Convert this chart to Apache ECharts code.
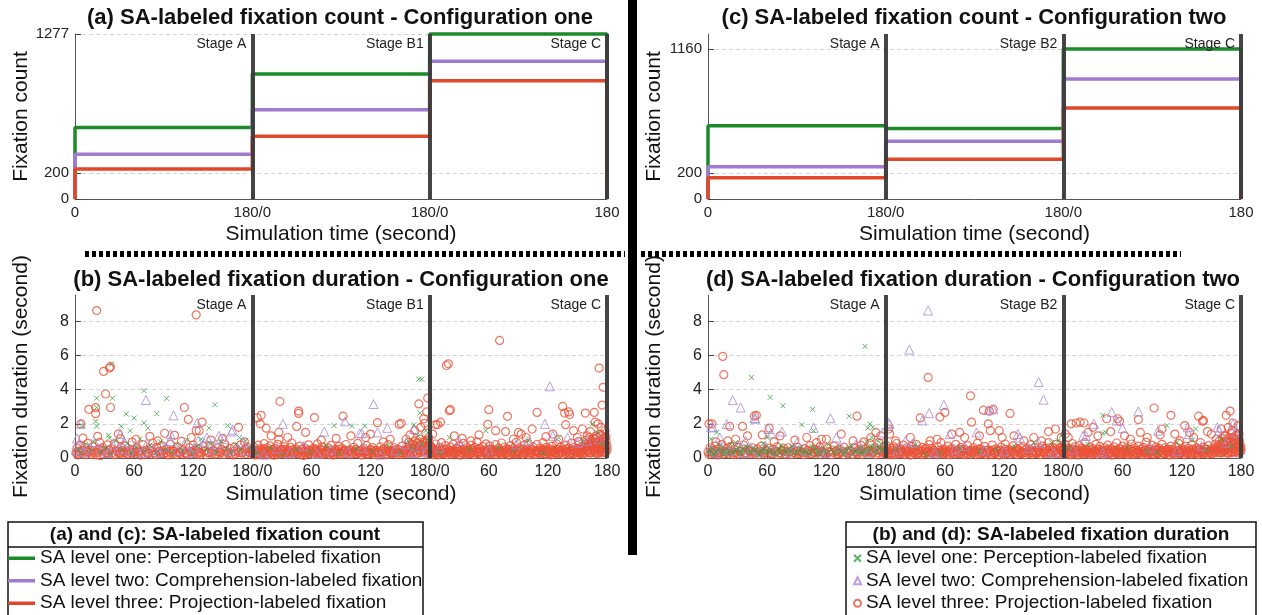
<!DOCTYPE html>
<html>
<head>
<meta charset="utf-8">
<script src="https://cdn.jsdelivr.net/npm/echarts@6/dist/echarts.min.js"></script>
<style>
  html, body { margin: 0; padding: 0; background: #fff; }
  #chart { width: 1262px; height: 615px; }
</style>
</head>
<body>
<div id="chart"></div>
<script>
// ---- data ----
const stageLen = 180;
const stagesOne = ['Stage A', 'Stage B1', 'Stage C'];
const stagesTwo = ['Stage A', 'Stage B2', 'Stage C'];
const countMax = 1277;
const countTicksOne = [0, 200, 1277];
const countTicksTwo = [0, 200, 1160];
const durMax = 9.55;
const durTicks = [0, 2, 4, 6, 8];

const levelNames = [
  'SA level one: Perception-labeled fixation',
  'SA level two: Comprehension-labeled fixation',
  'SA level three: Projection-labeled fixation'
];

// cumulative fixation count reached in each stage
const countOneL1 = [554, 967, 1277];
const countOneL2 = [346, 690, 1067];
const countOneL3 = [233, 485, 915];
const countTwoL1 = [567, 546, 1160];
const countTwoL2 = [249, 446, 928];
const countTwoL3 = [164, 308, 705];

// fixation duration: [time in stage (s), duration (s)] per stage
const durOneL1 = [
  [[37,5.5],[22,3.5],[22,2.96],[21,2.15],[22,1.86],[38,3.5],[70,3.95],[93,3.49],[142,3.12],[52,2.58],[60,2.34],[83,2.6],[70,2.05],[74,1.75],[47,1.86],[56,1.6],[34,1.33],[35,1.17],[155,1.9],[136,1.75],[167,1.2],[7,1.9],
   [3,.5],[6,.3],[11,.8],[16,.45],[19,.95],[26,.35],[31,.6],[36,.25],[41,1.0],[48,.5],[53,.85],[57,.3],[62,.65],[66,1.1],[71,.4],[76,.75],[82,.3],[87,.95],[92,.5],[98,.35],[103,.8],[109,.45],[114,1.05],[119,.3],[124,.7],[128,1.1],[133,.5],[138,.85],[143,.35],[148,.95],[153,.55],[158,.3],[163,.8],[168,.45],[173,1.0],[178,.6]],
  [[169,4.62],[172,4.62],[170,2.64],[83,1.9],[101,1.87],[114,1.87],[164,1.95],
   [5,.3],[18,.6],[30,.2],[44,.5],[58,.35],[75,.7],[88,.25],[105,.55],[122,.4],[138,.75],[150,.3],[158,1.0],[163,.6],[168,1.3],[172,.8],[176,1.6],[178,1.1]],
  [[20,1.2],[40,.5],[57,1.6],[85,.4],[100,1.0],[131,1.2],[155,1.0],[165,2.0],[170,1.5],[175,.8],[10,.3],[70,.6],[115,.3]]
];
const durOneL2 = [
  [[72,3.4],[100,2.5],[124,2.05],[97,1.4],[159,1.55],[160,1.65],[146,1.3],[134,1.2],[2,1.15],[6,2.0],[46,1.4],[125,1.0],
   [1,.45],[4,.8],[9,.35],[14,.6],[20,.9],[27,.5],[33,.3],[39,.75],[44,.55],[50,.95],[55,.4],[61,.7],[68,.3],[73,.85],[80,.5],[85,.35],[91,.65],[96,1.0],[104,.45],[111,.8],[117,.35],[121,.6],[131,.9],[139,.5],[144,.75],[151,1.1],[156,.4],[164,.6],[171,.9],[176,.45]],
  [[31,2.0],[73,1.55],[123,3.16],[94,2.15],[137,1.77],[127,1.5],[109,1.45],[111,1.45],[164,1.7],
   [3,.4],[12,.2],[25,.55],[38,.3],[52,.7],[66,.25],[80,.5],[97,.35],[112,.6],[130,.2],[145,.45],[155,.8],[162,.3],[170,.65],[177,.4]],
  [[122,4.2],[117,2.0],[30,1.0],[88,.8],[100,1.0],[125,1.3],[140,1.2],[150,.9],[160,1.0],[172,1.1],[60,.5],[10,.6]]
];
const durOneL3 = [
  [[22,8.64],[123,8.39],[29,5.07],[35,5.27],[36,5.35],[31,3.75],[36,2.96],[14,2.85],[21,2.6],[21,2.95],[111,2.96],[115,2.26],[129,2.1],[123,1.6],[126,1.6],[166,1.8],[23,1.27],[8,1.17],[6,2.0],[44,1.4],[46,1.13],[76,1.27],[84,1.0],[91,1.45],[101,1.33],[62,1.1],[118,1.2],[138,1.05],[150,1.15],[172,.95],
   [1,.32],[2,.58],[3,.18],[5,.74],[7,.41],[9,.22],[10,.63],[12,.37],[13,.86],[15,.47],[17,.19],[18,.66],[20,.29],[24,.52],[25,.91],[26,.14],[28,.61],[30,.43],[33,.77],[34,.27],[37,.55],[39,.21],[40,.83],[42,.44],[45,.31],[47,.62],[49,.36],[51,.71],[54,.24],[56,.49],[58,.93],[60,.33],[63,.58],[65,.41],[67,.17],[69,.78],[72,.46],[74,.28],[77,.57],[79,.88],[81,.23],[83,.63],[86,.39],[88,.72],[90,.26],[93,.52],[95,.18],[97,.81],[99,.44],[102,.29],[104,.66],[106,.35],[108,.97],[110,.48],[113,.22],[116,.61],[118,.38],[120,.76],[122,.27],[125,.53],[127,.19],[130,.68],[132,.42],[135,.31],[137,.73],[140,.45],[142,.21],[145,.59],[147,.34],[149,.51],[152,.82],[155,.28],[157,.56],[160,.18],[162,.64],[165,.43],[168,.77],[170,.31],[173,.52],[175,.62],[177,.33],[179,.47]],
  [[28,3.31],[47,2.75],[47,2.61],[63,2.37],[9,2.5],[8,2.0],[5,2.35],[45,1.85],[54,1.5],[14,1.75],[19,1.3],[27,1.5],[27,1.1],[92,2.45],[127,2.07],[151,2.03],[149,1.97],[174,2.3],[175,2.03],[178,3.51],[169,3.17],[100,1.3],[115,1.2],[140,1.1],[160,1.35],[165,1.6],[171,1.8],[177,2.7],[36,1.2],[70,1.05],[85,1.15],[120,1.4],[133,.95],[156,1.1],[176,1.45],[179,1.2],
   [1,.35],[2,.62],[3,.18],[4,.48],[6,.75],[7,.27],[9,.55],[11,.39],[12,.84],[13,.22],[15,.6],[17,.33],[18,.71],[20,.45],[22,.16],[23,.58],[25,.36],[26,.8],[28,.25],[30,.51],[32,.67],[33,.3],[35,.43],[37,.19],[39,.62],[40,.88],[42,.34],[44,.53],[46,.24],[48,.7],[50,.41],[52,.15],[53,.6],[55,.32],[57,.77],[59,.47],[61,.21],[62,.56],[64,.38],[66,.83],[68,.29],[69,.52],[71,.66],[73,.23],[75,.44],[77,.59],[79,.31],[80,.74],[82,.17],[84,.5],[86,.36],[88,.68],[90,.26],[91,.55],[93,.41],[95,.79],[97,.2],[99,.48],[101,.33],[103,.63],[105,.27],[107,.86],[109,.42],[111,.18],[113,.57],[114,.35],[116,.72],[118,.25],[120,.49],[122,.61],[124,.3],[126,.45],[128,.19],[130,.66],[132,.38],[134,.54],[136,.23],[138,.78],[140,.4],[142,.29],[144,.6],[146,.35],[148,.5],[150,.2],[152,.7],[154,.44],[156,.31],[158,.62],[159,.92],[161,.27],[162,.55],[163,.8],[164,.38],[165,1.0],[166,.6],[167,.24],[168,.85],[169,.47],[170,1.1],[171,.33],[172,.72],[173,.95],[174,.52],[175,.28],[176,.88],[177,.6],[178,1.05],[179,.4],[180,.7]],
  [[71,6.89],[17,5.42],[19,5.52],[172,5.27],[176,4.14],[20,2.77],[21,2.83],[60,2.83],[79,2.44],[109,2.67],[135,3.02],[137,2.63],[141,2.7],[142,2.55],[158,2.63],[167,2.67],[175,3.1],[11,2.1],[6,1.96],[8,1.96],[59,1.97],[67,1.6],[77,1.55],[104,1.7],[90,1.5],[93,1.4],[138,1.95],[146,1.6],[155,1.7],[163,1.55],[168,2.1],[171,2.0],[174,1.8],[3,1.4],[25,1.3],[33,1.15],[42,1.0],[50,1.35],[85,1.1],[98,1.2],[118,1.25],[125,1.4],[131,1.1],[150,1.2],[160,1.3],[178,1.6],
   [0,.4],[1,.7],[2,.22],[3,.55],[5,.33],[6,.82],[7,.46],[8,.18],[10,.61],[11,.38],[12,.9],[14,.27],[15,.53],[16,.72],[18,.35],[19,.2],[21,.64],[22,.45],[24,.8],[25,.28],[27,.57],[28,.37],[30,.69],[31,.16],[33,.5],[34,.86],[36,.31],[37,.6],[39,.42],[40,.23],[42,.74],[43,.48],[45,.3],[46,.62],[48,.95],[49,.36],[51,.55],[52,.19],[54,.67],[55,.41],[57,.83],[58,.27],[60,.52],[61,.7],[63,.33],[64,.46],[66,.2],[67,.78],[69,.39],[70,.58],[72,.25],[73,.88],[75,.44],[76,.63],[78,.3],[79,.51],[81,.17],[82,.72],[84,.4],[85,.56],[87,.26],[88,.92],[90,.35],[91,.6],[93,.45],[94,.21],[96,.74],[97,.32],[99,.54],[100,.85],[102,.28],[103,.47],[105,.65],[106,.2],[108,.4],[109,.79],[111,.31],[112,.57],[114,.43],[115,.9],[117,.24],[118,.62],[120,.37],[121,.53],[123,.18],[124,.7],[126,.45],[127,.29],[129,.82],[130,.5],[132,.34],[133,.64],[135,.22],[136,.48],[138,.75],[139,.38],[141,.59],[142,.27],[144,.87],[145,.43],[147,.63],[148,.3],[150,.52],[151,.96],[153,.36],[154,.66],[156,.24],[157,.55],[158,.8],[159,1.05],[160,.42],[161,.7],[162,1.2],[163,.3],[164,.9],[165,.58],[166,1.15],[167,.4],[168,.75],[169,1.3],[170,.25],[171,.95],[172,.6],[173,1.4],[174,.45],[175,.82],[176,1.1],[177,.35],[178,.68],[179,1.25],[180,.5]]
];
// the many short level-three fixations that fill the bottom band
const bandOneL3 = [
  [[2,.25],[4,.4],[6,.3],[8,.45],[11,.2],[14,.35],[16,.28],[19,.42],[22,.18],[23,.33],[27,.4],[29,.25],[32,.3],[35,.45],[38,.32],[41,.2],[43,.38],[46,.26],[48,.44],[50,.3],[53,.22],[55,.37],[57,.3],[59,.45],[61,.24],[64,.34],[66,.28],[68,.41],[71,.19],[73,.36],[75,.27],[78,.43],[80,.31],[82,.2],[85,.38],[87,.26],[89,.44],[92,.3],[94,.22],[96,.36],[98,.29],[100,.4],[103,.2],[105,.33],[107,.27],[109,.42],[112,.3],[114,.24],[117,.38],[119,.28],[121,.45],[124,.22],[126,.35],[128,.3],[131,.41],[133,.2],[136,.33],[139,.27],[141,.4],[144,.25],[146,.36],[148,.3],[151,.22],[153,.4],[156,.31],[158,.26],[161,.38],[163,.24],[166,.33],[169,.28],[171,.42],[174,.25],[176,.36],[178,.3]],
  [[0,.3],[1,.2],[2,.42],[3,.33],[5,.25],[6,.48],[7,.36],[8,.22],[10,.4],[11,.3],[12,.52],[14,.26],[15,.38],[16,.2],[17,.45],[19,.32],[20,.24],[21,.5],[22,.36],[24,.28],[25,.44],[26,.2],[27,.34],[29,.46],[30,.26],[31,.38],[33,.22],[34,.5],[35,.3],[36,.4],[38,.25],[39,.35],[41,.48],[42,.22],[43,.32],[45,.42],[46,.28],[47,.36],[49,.2],[50,.5],[51,.3],[53,.4],[54,.24],[56,.34],[57,.46],[58,.27],[60,.37],[61,.22],[63,.44],[64,.3],[65,.52],[67,.25],[68,.38],[70,.3],[71,.2],[72,.45],[74,.33],[75,.26],[76,.4],[78,.22],[79,.48],[81,.3],[82,.36],[83,.24],[85,.42],[86,.28],[87,.5],[89,.34],[90,.2],[92,.4],[93,.27],[94,.46],[96,.32],[97,.24],[98,.38],[100,.22],[101,.44],[102,.3],[104,.36],[105,.5],[106,.25],[108,.4],[109,.3],[110,.2],[112,.46],[113,.33],[115,.26],[116,.4],[117,.22],[119,.35],[120,.48],[121,.28],[123,.38],[124,.2],[125,.44],[127,.3],[128,.36],[129,.24],[131,.42],[132,.3],[133,.5],[135,.26],[136,.38],[137,.2],[139,.45],[140,.32],[141,.25],[143,.4],[144,.3],[145,.48],[147,.22],[148,.36],[149,.28],[151,.44],[152,.32],[153,.24],[155,.4],[156,.5],[157,.28],[159,.36],[160,.6],[161,.42],[162,.75],[163,.3],[164,.55],[165,.68],[166,.4],[167,.9],[168,.32],[169,.62],[170,.5],[171,.8],[172,.38],[173,.66],[174,.45],[175,.95],[176,.35],[177,.7],[178,.5],[179,.85],[180,.3]],
  [[0,.25],[1,.45],[2,.32],[3,.2],[4,.5],[5,.38],[6,.26],[7,.42],[9,.3],[10,.22],[11,.48],[12,.35],[13,.24],[14,.44],[15,.3],[17,.2],[18,.5],[19,.36],[20,.28],[21,.42],[22,.22],[23,.34],[24,.46],[26,.3],[27,.24],[28,.52],[29,.38],[30,.2],[31,.44],[32,.32],[34,.26],[35,.48],[36,.36],[37,.22],[38,.4],[39,.3],[41,.5],[42,.25],[43,.35],[44,.44],[45,.2],[47,.38],[48,.3],[49,.52],[50,.26],[51,.4],[52,.33],[53,.22],[55,.46],[56,.3],[57,.37],[58,.2],[59,.44],[60,.32],[62,.25],[63,.5],[64,.36],[65,.28],[66,.42],[68,.22],[69,.35],[70,.47],[71,.3],[72,.4],[73,.2],[74,.33],[76,.45],[77,.27],[78,.38],[80,.22],[81,.5],[82,.34],[83,.26],[84,.42],[86,.3],[87,.2],[88,.46],[89,.36],[90,.25],[91,.4],[92,.3],[94,.52],[95,.22],[96,.38],[97,.28],[98,.44],[100,.33],[101,.2],[102,.42],[103,.3],[104,.5],[106,.26],[107,.36],[108,.22],[109,.46],[110,.32],[111,.4],[113,.25],[114,.35],[115,.5],[116,.28],[117,.4],[119,.2],[120,.44],[121,.32],[122,.26],[123,.48],[125,.36],[126,.22],[127,.4],[128,.3],[129,.5],[131,.25],[132,.38],[133,.3],[134,.45],[135,.2],[137,.36],[138,.28],[139,.5],[140,.33],[142,.22],[143,.42],[144,.3],[145,.48],[146,.25],[148,.37],[149,.2],[150,.44],[151,.3],[152,.55],[153,.27],[154,.4],[155,.32],[156,.5],[157,.62],[158,.3],[159,.45],[160,.72],[161,.35],[161,.9],[162,.55],[163,.8],[163,.3],[164,.65],[165,1.0],[165,.4],[166,.7],[167,.5],[167,.95],[168,.3],[168,1.1],[169,.6],[169,.85],[170,.4],[170,1.2],[171,.7],[171,.3],[172,.9],[172,.5],[173,1.05],[173,.35],[174,.75],[174,1.3],[175,.5],[175,.3],[176,.95],[176,.6],[177,1.2],[177,.4],[178,.8],[178,.55],[179,1.0],[179,.35],[180,.7]]
];

const durTwoL1 = [
  [[44,4.72],[63,3.55],[76,3.06],[159,6.54],[106,2.85],[143,2.45],[95,1.95],[107,1.6],[162,1.75],[164,2.0],[167,1.8],[9,1.5],[3,1.1],[60,1.2],[28,.9],
   [1,.3],[4,.6],[6,.2],[10,.45],[12,.75],[15,.35],[18,.55],[20,.25],[23,.8],[26,.4],[30,.6],[32,.3],[35,.5],[38,.7],[42,.35],[46,.55],[50,.25],[53,.45],[56,.85],[59,.3],[62,.6],[65,.4],[69,.2],[72,.55],[74,.75],[78,.35],[82,.5],[85,.7],[90,.3],[94,.6],[97,.4],[102,.25],[105,.7],[109,.45],[112,.3],[117,.55],[122,.8],[127,.35],[132,.6],[137,.25],[140,.5],[145,.7],[149,.4],[154,.6],[157,.3],[161,.95],[163,.55],[166,1.2],[168,.7],[170,.4],[172,1.0],[174,.6],[176,.85],[178,.5],
   [2,.45],[5,.25],[8,.35],[13,.5],[16,.2],[21,.4],[25,.3],[29,.45],[33,.25],[37,.4],[40,.6],[44,.3],[48,.5],[52,.2],[55,.4],[58,.6],[61,.35],[66,.25],[70,.45],[73,.3],[77,.55],[80,.25],[84,.4],[88,.3],[92,.5],[96,.25],[100,.4],[104,.3],[108,.6],[111,.2],[115,.4],[120,.3],[125,.5],[129,.25],[134,.4],[139,.3],[143,.6],[147,.25],[151,.4],[155,.3],[159,.5],[162,.35],[165,.7],[169,.3],[173,.55],[177,.4]],
  [[10,.5],[30,.8],[55,.3],[75,.6],[95,.4],[130,.7],[150,.9],[168,.9],[175,1.0],[178,1.3],[40,.2],[112,.5]],
  [[40,2.5],[40,1.45],[43,1.5],[105,1.9],[134,1.7],[25,.8],[65,.6],[85,.4],[115,.9],[145,.5],[160,1.1],[170,.7],[131,1.05],[95,.3],[5,.6]]
];
const durTwoL2 = [
  [[25,3.39],[33,2.96],[47,2.34],[48,2.3],[124,2.33],[107,1.77],[19,1.99],[3,1.8],[5,1.8],[61,1.7],[75,1.55],[177,1.5],[12,1.2],[38,1.0],[64,1.45],[90,.9],[130,1.2],[150,.8],
   [2,.5],[8,.3],[14,.6],[22,.4],[30,.75],[36,.3],[44,.55],[52,.35],[58,.7],[67,.45],[80,.3],[87,.6],[99,.4],[114,.55],[119,.3],[134,.65],[142,.4],[155,.5],[163,.35],[172,.6]],
  [[43,8.64],[24,6.35],[44,2.63],[37,2.2],[4,2.0],[3,2.05],[59,3.11],[155,4.45],[160,3.42],[104,2.8],[109,2.85],[92,1.5],[134,1.4],[136,1.2],[20,1.0],[28,.9],[65,1.4],[70,.5],[80,.7],[120,.4],[145,.6],[170,.3],[12,.5],[50,.3],[100,.45],[155,.9]],
  [[76,2.73],[49,2.69],[54,2.2],[60,1.75],[31,2.0],[96,1.6],[126,1.8],[127,1.4],[156,1.8],[158,1.6],[20,1.3],[23,1.3],[172,2.0],[175,1.5],[10,.5],[40,.3],[88,.6],[115,.4],[140,.7],[165,.9]]
];
const durTwoL3 = [
  [[15,5.95],[16,4.88],[47,2.45],[49,2.5],[151,2.45],[1,2.0],[4,2.0],[22,1.85],[35,1.85],[62,1.75],[115,1.1],[135,1.4],[55,1.35],[20,1.0],[40,1.3],[73,1.3],[88,1.05],[100,1.2],[120,1.1],[147,1.0],[165,1.2],[170,1.5],[175,1.3],[8,.95],[28,1.1],[67,.95],[110,.9],[158,.95],
   [0,.35],[2,.6],[3,.22],[5,.45],[7,.7],[9,.28],[11,.52],[13,.38],[14,.8],[17,.25],[19,.56],[21,.42],[23,.67],[25,.3],[27,.5],[29,.2],[31,.62],[33,.4],[36,.76],[38,.27],[41,.48],[43,.34],[45,.6],[48,.22],[50,.53],[52,.41],[54,.7],[57,.3],[59,.46],[61,.58],[64,.24],[66,.5],[68,.37],[70,.65],[72,.28],[75,.44],[77,.55],[79,.21],[81,.6],[83,.36],[86,.48],[89,.25],[91,.62],[93,.4],[96,.3],[98,.55],[101,.45],[103,.72],[105,.27],[108,.5],[111,.35],[113,.64],[116,.4],[118,.23],[121,.58],[123,.33],[126,.47],[128,.7],[131,.26],[133,.52],[136,.38],[138,.62],[141,.3],[143,.45],[146,.21],[148,.6],[150,.36],[153,.5],[155,.74],[157,.28],[160,.55],[162,.4],[164,.85],[167,.33],[169,.6],[171,.45],[173,.9],[176,.38],[178,.65],[179,.3]],
  [[43,4.72],[35,2.35],[55,2.4],[60,2.67],[86,3.64],[99,2.8],[105,2.75],[109,2.85],[126,2.61],[87,2.1],[104,2.0],[106,1.6],[165,1.55],[172,1.7],[3,1.7],[4,1.4],[10,1.0],[25,1.2],[45,1.0],[67,1.4],[75,1.5],[80,1.2],[95,1.3],[115,1.6],[118,1.2],[140,1.0],[150,1.2],[158,1.0],[178,1.2],[52,1.1],[130,1.3],
   [0,.45],[1,.72],[3,.3],[5,.58],[6,.2],[8,.66],[10,.4],[11,.85],[13,.27],[15,.52],[16,.36],[18,.75],[20,.23],[21,.6],[23,.42],[25,.17],[26,.68],[28,.33],[30,.5],[31,.8],[33,.26],[35,.47],[37,.62],[38,.2],[40,.55],[42,.37],[44,.78],[46,.3],[47,.56],[49,.43],[51,.22],[53,.65],[55,.35],[56,.9],[58,.28],[60,.5],[62,.4],[63,.7],[65,.19],[67,.57],[69,.33],[71,.8],[72,.45],[74,.25],[76,.62],[78,.38],[80,.52],[82,.2],[83,.73],[85,.41],[87,.3],[89,.6],[91,.45],[93,.87],[94,.24],[96,.55],[98,.34],[100,.68],[102,.21],[104,.48],[106,.37],[108,.76],[110,.28],[112,.53],[113,.42],[115,.18],[117,.64],[119,.36],[121,.82],[123,.27],[125,.5],[127,.39],[129,.71],[131,.23],[133,.56],[135,.44],[137,.3],[139,.66],[141,.2],[143,.52],[145,.4],[147,.78],[149,.29],[151,.61],[153,.35],[155,.47],[157,.22],[159,.7],[161,.38],[163,.55],[165,.9],[167,.31],[169,.63],[171,.44],[173,.8],[175,.26],[177,.58],[179,.4]],
  [[92,2.93],[44,2.3],[55,2.3],[57,2.15],[76,2.25],[8,2.0],[13,2.05],[17,2.1],[21,2.05],[109,2.5],[137,2.45],[141,2.15],[142,2.2],[169,2.75],[165,2.5],[172,2.05],[2,1.4],[5,1.2],[25,1.5],[35,1.3],[48,1.55],[62,1.3],[68,1.1],[78,1.5],[85,1.2],[98,1.35],[113,1.4],[118,1.0],[128,1.5],[132,1.2],[150,1.4],[155,1.1],[160,1.7],[163,1.3],[167,1.8],[171,1.6],[174,1.2],[177,1.9],[178,1.4],[30,1.8],[100,1.7],[123,1.9],[146,1.55],
   [0,.5],[1,.25],[2,.78],[4,.4],[5,.6],[6,.2],[8,.52],[9,.85],[10,.33],[12,.66],[13,.44],[15,.18],[16,.72],[18,.38],[19,.58],[21,.27],[22,.9],[24,.46],[25,.3],[27,.62],[28,.2],[30,.55],[31,.4],[33,.8],[34,.28],[36,.5],[37,.68],[39,.35],[40,.22],[42,.6],[43,.45],[45,.75],[46,.3],[48,.52],[49,.17],[51,.66],[52,.4],[54,.88],[55,.32],[57,.55],[58,.24],[60,.7],[61,.43],[63,.3],[64,.6],[66,.2],[67,.5],[69,.82],[70,.36],[72,.58],[73,.26],[75,.45],[76,.7],[78,.33],[79,.19],[81,.62],[82,.42],[84,.93],[85,.28],[87,.53],[88,.38],[90,.74],[91,.22],[93,.48],[94,.64],[96,.3],[97,.56],[99,.41],[100,.8],[102,.25],[103,.6],[105,.35],[106,.5],[108,.18],[109,.7],[111,.44],[112,.27],[114,.65],[115,.38],[117,.86],[118,.3],[120,.54],[121,.42],[123,.2],[124,.68],[126,.34],[127,.57],[129,.25],[130,.77],[132,.46],[133,.31],[135,.6],[136,.21],[138,.52],[139,.9],[141,.37],[142,.63],[144,.28],[145,.5],[147,.72],[148,.4],[150,.24],[151,.58],[153,.35],[154,.8],[156,.46],[157,.66],[158,1.0],[159,.3],[160,.55],[161,1.15],[162,.4],[163,.78],[164,1.3],[165,.5],[166,.95],[167,.28],[168,1.2],[169,.62],[170,1.45],[171,.36],[172,.85],[173,1.1],[174,.5],[175,1.35],[176,.7],[177,.3],[178,1.0],[179,.6],[180,.42]]
];
const bandTwoL3 = [
  [[1,.2],[4,.33],[6,.25],[8,.4],[10,.18],[12,.3],[15,.22],[18,.36],[20,.27],[24,.42],[26,.2],[28,.33],[30,.26],[34,.38],[37,.22],[39,.3],[42,.4],[44,.25],[47,.33],[51,.2],[53,.36],[56,.28],[58,.4],[60,.22],[63,.32],[65,.26],[69,.38],[71,.2],[74,.3],[76,.42],[78,.25],[80,.35],[84,.2],[87,.32],[90,.4],[92,.26],[95,.36],[97,.2],[100,.3],[102,.42],[104,.24],[107,.35],[109,.28],[112,.4],[114,.22],[117,.33],[119,.27],[122,.38],[125,.2],[127,.32],[130,.4],[132,.25],[135,.3],[137,.2],[140,.36],[142,.28],[145,.4],[147,.22],[149,.33],[152,.27],[154,.4],[156,.2],[159,.35],[161,.28],[163,.42],[166,.25],[168,.36],[170,.2],[172,.3],[174,.45],[177,.27],[179,.4]],
  [[0,.25],[1,.4],[2,.2],[3,.48],[4,.33],[6,.27],[7,.44],[9,.3],[10,.22],[12,.5],[13,.36],[14,.25],[16,.42],[17,.3],[19,.2],[20,.46],[22,.34],[23,.26],[24,.4],[26,.22],[27,.5],[29,.3],[30,.38],[32,.24],[33,.44],[34,.32],[36,.2],[37,.42],[39,.3],[40,.26],[41,.5],[43,.36],[44,.22],[45,.4],[47,.3],[48,.46],[50,.25],[51,.35],[52,.2],[54,.44],[55,.3],[57,.38],[58,.5],[59,.24],[61,.34],[62,.2],[64,.42],[65,.3],[66,.48],[68,.26],[69,.38],[70,.22],[72,.4],[73,.3],[75,.5],[76,.25],[77,.36],[79,.2],[80,.44],[81,.32],[83,.26],[84,.4],[86,.22],[87,.48],[88,.34],[90,.28],[91,.4],[92,.2],[94,.36],[95,.5],[97,.26],[98,.4],[99,.3],[101,.22],[102,.44],[103,.34],[105,.25],[106,.4],[107,.2],[109,.48],[110,.32],[111,.26],[113,.38],[114,.22],[116,.45],[117,.3],[118,.36],[120,.2],[121,.5],[122,.28],[124,.4],[125,.3],[126,.22],[128,.44],[129,.34],[130,.26],[132,.4],[133,.2],[134,.5],[136,.3],[137,.38],[138,.25],[140,.44],[141,.32],[142,.2],[144,.4],[145,.28],[146,.5],[148,.34],[149,.22],[150,.42],[152,.3],[153,.26],[154,.45],[156,.35],[157,.2],[158,.4],[160,.3],[161,.52],[162,.25],[164,.38],[165,.3],[166,.6],[168,.22],[169,.45],[170,.35],[172,.55],[173,.25],[174,.42],[176,.3],[177,.62],[178,.38],[179,.5],[180,.28]],
  [[0,.3],[1,.48],[2,.22],[3,.4],[4,.3],[5,.52],[6,.26],[7,.38],[8,.2],[9,.45],[10,.34],[11,.25],[12,.5],[13,.3],[14,.4],[15,.22],[16,.46],[17,.32],[18,.26],[19,.42],[20,.2],[21,.36],[22,.5],[23,.28],[24,.4],[26,.22],[27,.34],[28,.46],[29,.3],[30,.24],[32,.42],[33,.32],[34,.2],[35,.5],[36,.36],[38,.26],[39,.44],[40,.3],[41,.2],[42,.4],[44,.33],[45,.5],[46,.25],[47,.38],[48,.3],[50,.22],[51,.44],[52,.34],[53,.26],[54,.48],[56,.3],[57,.2],[58,.4],[59,.32],[60,.25],[62,.46],[63,.36],[64,.22],[65,.42],[66,.3],[68,.5],[69,.26],[70,.38],[71,.2],[72,.44],[74,.32],[75,.25],[76,.4],[77,.3],[78,.5],[80,.22],[81,.36],[82,.28],[83,.44],[84,.2],[86,.4],[87,.3],[88,.48],[89,.25],[90,.36],[92,.22],[93,.42],[94,.3],[95,.5],[96,.26],[98,.38],[99,.2],[100,.44],[101,.32],[102,.25],[104,.46],[105,.3],[106,.4],[107,.22],[108,.36],[110,.5],[111,.28],[112,.4],[113,.2],[114,.33],[116,.45],[117,.3],[118,.25],[119,.42],[120,.34],[122,.2],[123,.48],[124,.3],[125,.38],[126,.25],[128,.44],[129,.32],[130,.22],[131,.5],[132,.36],[134,.26],[135,.42],[136,.3],[137,.2],[138,.46],[140,.34],[141,.26],[142,.4],[143,.3],[144,.5],[146,.22],[147,.38],[148,.3],[149,.45],[150,.26],[152,.4],[153,.55],[154,.3],[155,.45],[156,.65],[157,.35],[158,.5],[159,.8],[160,.3],[160,.6],[161,.45],[162,.9],[162,.35],[163,.6],[164,.4],[164,1.0],[165,.7],[166,.3],[166,.85],[167,.55],[168,1.1],[168,.4],[169,.7],[170,.3],[170,.95],[171,.55],[172,1.2],[172,.4],[173,.8],[174,.35],[174,1.05],[175,.6],[176,.4],[176,1.3],[177,.7],[178,.45],[178,1.1],[179,.8],[179,.35],[180,.6]]
];

// ---- styling ----
const FONT = '"Liberation Sans", Arial, sans-serif';
const lineColors = ['#1c8a2b', '#a07bcf', '#e0482a'];
const markColors = ['#38a043', '#a68ad6', '#ea5238'];
const markWidths = [1, 1, 1.2];
const stageLineColor = '#3b3b3b';

// panels: 0=(a) 1=(c) 2=(b) 3=(d)
const grids = [
  { left: 75,  top: 34,  width: 532, height: 165 },
  { left: 708, top: 34,  width: 533, height: 165 },
  { left: 75,  top: 295, width: 532, height: 163 },
  { left: 708, top: 295, width: 533, height: 163 }
];

function stageTimeLabel(v) {
  if (v === 0) return '0';
  if (v === stageLen * 3) return String(stageLen);
  if (v % stageLen === 0) return stageLen + '/0';
  return String(v % stageLen);
}

function stepData(vals) {
  const pts = [[0, 0]];
  vals.forEach((v, i) => pts.push([i * stageLen, v]));
  pts.push([vals.length * stageLen, vals[vals.length - 1]]);
  pts.push([vals.length * stageLen, 0]);
  return pts;
}

function flatStages(stages, extra) {
  const out = [];
  stages.forEach((pts, i) => {
    const all = extra ? pts.concat(extra[i]) : pts;
    all.forEach(p => out.push([p[0] + i * stageLen, p[1]]));
  });
  return out;
}

const stageMarks = {
  silent: true,
  symbol: ['none', 'none'],
  label: { show: false },
  lineStyle: { color: stageLineColor, width: 4, type: 'solid', opacity: 0.95 },
  data: [1, 2, 3].map(k => ({ xAxis: k * stageLen })),
  animation: false
};

function makeX(i, interval, fs) {
  return {
    type: 'value', gridIndex: i, min: 0, max: stageLen * 3, interval: interval,
    axisLine: { lineStyle: { color: '#555', width: 1 } },
    axisTick: { inside: true, length: 5, lineStyle: { color: '#444' } },
    axisLabel: { fontSize: fs, color: '#222', margin: 6, fontFamily: FONT, formatter: stageTimeLabel, showMinLabel: true, showMaxLabel: true },
    splitLine: { show: false },
    name: 'Simulation time (second)', nameLocation: 'middle', nameGap: i < 2 ? 25 : 26,
    nameMoveOverlap: false,
    nameTextStyle: { fontSize: 21, color: '#111', fontFamily: FONT }
  };
}

function makeY(i, max, ticks, name, fs) {
  return {
    type: 'value', gridIndex: i, min: 0, max: max,
    axisLine: { show: true, lineStyle: { color: '#555', width: 1 } },
    axisTick: { show: true, inside: true, length: 6, customValues: ticks, lineStyle: { color: '#444' } },
    axisLabel: { fontSize: fs, color: '#222', margin: 6, fontFamily: FONT, customValues: ticks, formatter: v => String(v) },
    splitLine: { show: true, lineStyle: { color: '#d4d4d4', type: [4, 3], width: 1 } },
    name: name, nameLocation: 'middle', nameGap: 43, nameMoveOverlap: false,
    nameTextStyle: { fontSize: 21, color: '#111', fontFamily: FONT }
  };
}

function countSeries(panel, lists) {
  return lists.map((vals, k) => ({
    type: 'line', name: 'cnt' + (k + 1), xAxisIndex: panel, yAxisIndex: panel,
    step: 'end', symbol: 'none', clip: false, animation: false,
    data: stepData(vals),
    lineStyle: { color: lineColors[k], width: 3.5 },
    itemStyle: { color: lineColors[k] },
    markLine: k === lists.length - 1 ? stageMarks : undefined
  }));
}

const markerSymbols = ['path://M0,0L10,10M10,0L0,10', 'triangle', 'circle'];
const markerSizes = [5, 9, 8];

function durSeries(panel, lists, band) {
  // level three first so green and purple marks stay visible on top
  return [2, 1, 0].map((k, n) => ({
    type: 'scatter', name: 'dur' + (k + 1), xAxisIndex: panel, yAxisIndex: panel,
    symbol: markerSymbols[k], symbolSize: markerSizes[k], animation: false,
    data: flatStages(lists[k], k === 2 ? band : null),
    itemStyle: { color: 'rgba(0,0,0,0)', borderColor: markColors[k], borderWidth: markWidths[k] },
    markLine: n === 2 ? stageMarks : undefined
  }));
}

function stageLabels(panel, names) {
  const g = grids[panel];
  return names.map((s, k) => ({
    type: 'text', z: 10, silent: true,
    style: {
      text: s, x: g.left + g.width * (k + 1) / 3 - 6, y: g.top + 10,
      textAlign: 'right', textVerticalAlign: 'middle',
      font: '14px ' + FONT, fill: '#222'
    }
  }));
}

function titleText(txt, x, y) {
  return {
    type: 'text', silent: true,
    style: { text: txt, x: x, y: y, textAlign: 'center', textVerticalAlign: 'middle', font: 'bold 22px ' + FONT, fill: '#111' }
  };
}

const chart = echarts.init(document.getElementById('chart'));

chart.setOption({
  animation: false,
  textStyle: { fontFamily: FONT },
  grid: grids.map(g => Object.assign({ outerBoundsMode: 'none', containLabel: false }, g)),
  xAxis: [makeX(0, 180, 15), makeX(1, 180, 15), makeX(2, 60, 16), makeX(3, 60, 16)],
  yAxis: [
    makeY(0, countMax, countTicksOne, 'Fixation count', 15),
    makeY(1, countMax, countTicksTwo, 'Fixation count', 15),
    makeY(2, durMax, durTicks, 'Fixation duration (second)', 16),
    makeY(3, durMax, durTicks, 'Fixation duration (second)', 16)
  ],
  legend: [
    {
      left: 8, top: 547, orient: 'vertical', padding: 0, itemGap: 0,
      icon: 'rect', itemWidth: 27, itemHeight: 3.5, selectedMode: false,
      data: ['cnt1', 'cnt2', 'cnt3'],
      formatter: n => levelNames[+n.slice(3) - 1],
      textStyle: { fontSize: 19, lineHeight: 22.5, color: '#111', fontFamily: FONT }
    },
    {
      left: 853, top: 547, orient: 'vertical', padding: 0, itemGap: 0,
      itemWidth: 7, itemHeight: 7, selectedMode: false,
      data: ['dur1', 'dur2', 'dur3'],
      formatter: n => levelNames[+n.slice(3) - 1],
      textStyle: { fontSize: 19, lineHeight: 22.5, color: '#111', fontFamily: FONT }
    }
  ],
  series: [].concat(
    countSeries(0, [countOneL1, countOneL2, countOneL3]),
    countSeries(1, [countTwoL1, countTwoL2, countTwoL3]),
    durSeries(2, [durOneL1, durOneL2, durOneL3], bandOneL3),
    durSeries(3, [durTwoL1, durTwoL2, durTwoL3], bandTwoL3)
  ),
  graphic: [].concat(
    [
      titleText('(a) SA-labeled fixation count - Configuration one', 340, 18),
      titleText('(c) SA-labeled fixation count - Configuration two', 974, 18),
      titleText('(b) SA-labeled fixation duration - Configuration one', 341, 280),
      titleText('(d) SA-labeled fixation duration - Configuration two', 973, 280)
    ],
    stageLabels(0, stagesOne), stageLabels(1, stagesTwo),
    stageLabels(2, stagesOne), stageLabels(3, stagesTwo),
    [
      // divider bar between configurations
      { type: 'rect', shape: { x: 628, y: 0, width: 9, height: 555 }, style: { fill: '#000' }, silent: true },
      // dotted separators between count and duration rows
      { type: 'line', shape: { x1: 85, y1: 254, x2: 625, y2: 254 }, style: { stroke: '#000', lineWidth: 6, lineDash: [4, 3] }, silent: true },
      { type: 'line', shape: { x1: 641, y1: 254, x2: 1181, y2: 254 }, style: { stroke: '#000', lineWidth: 6, lineDash: [4, 3] }, silent: true },
      // legend boxes
      { type: 'rect', shape: { x: 8, y: 522, width: 415, height: 100 }, style: { fill: 'none', stroke: '#111', lineWidth: 1.5 }, silent: true },
      { type: 'line', shape: { x1: 8, y1: 547, x2: 423, y2: 547 }, style: { stroke: '#111', lineWidth: 1.5 }, silent: true },
      { type: 'text', silent: true, style: { text: '(a) and (c): SA-labeled fixation count', x: 215, y: 535, textAlign: 'center', textVerticalAlign: 'middle', font: 'bold 19px ' + FONT, fill: '#111' } },
      { type: 'rect', shape: { x: 846, y: 522, width: 410, height: 100 }, style: { fill: 'none', stroke: '#111', lineWidth: 1.5 }, silent: true },
      { type: 'line', shape: { x1: 846, y1: 547, x2: 1256, y2: 547 }, style: { stroke: '#111', lineWidth: 1.5 }, silent: true },
      { type: 'text', silent: true, style: { text: '(b) and (d): SA-labeled fixation duration', x: 1051, y: 535, textAlign: 'center', textVerticalAlign: 'middle', font: 'bold 19px ' + FONT, fill: '#111' } }
    ]
  )
});
</script>
</body>
</html>
